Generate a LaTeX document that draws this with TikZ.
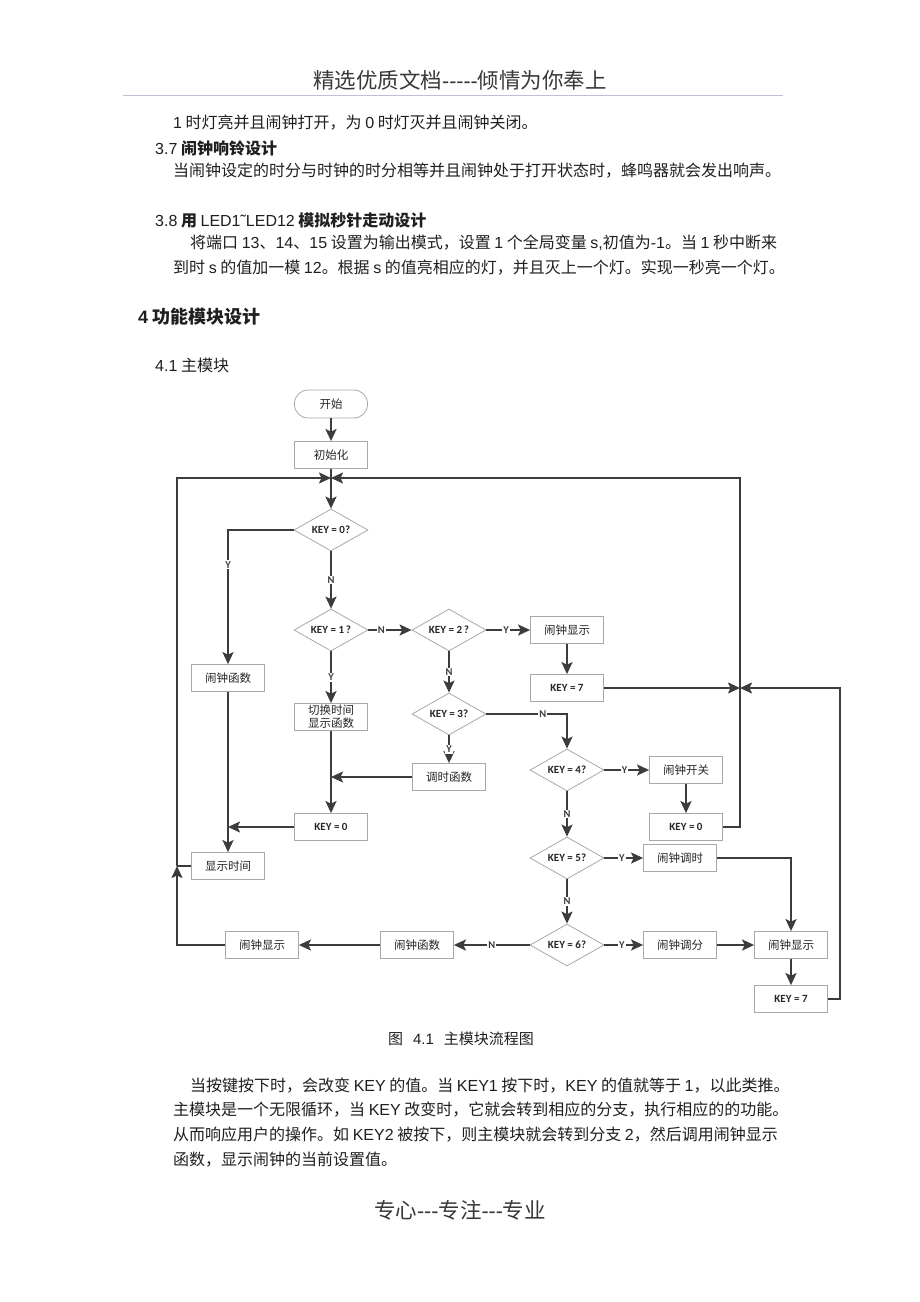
\documentclass[tikz,border=0pt]{standalone}
\usepackage{fontspec}
\setmainfont{Noto Sans CJK SC}
\newfontfamily\latfont{Liberation Sans}
\newfontfamily\keyfont{Carlito}
\usetikzlibrary{shapes.geometric,arrows.meta}
\definecolor{linegray}{HTML}{3C3C3C}
\definecolor{boxgray}{HTML}{A8A8A8}
\definecolor{rulegray}{HTML}{C6BCD8}
\newcommand{\en}[1]{{\latfont #1}}
\newcommand{\keyfnt}{\keyfont\bfseries\fontsize{11}{13}\selectfont}

\begin{document}
\begin{tikzpicture}[x=1pt,y=-1pt,
	>={Stealth[length=12pt,width=11pt,inset=2.5pt]},
	body/.style={anchor=west,inner sep=0pt,text=black!88,font=\fontsize{16}{18}\selectfont},
	box/.style={draw=boxgray,line width=0.8pt,fill=white,minimum width=73pt,minimum height=27pt,inner sep=1pt,text=black!85,font=\fontsize{11.5}{13}\selectfont},
	keybox/.style={box,font=\keyfnt},
	startbox/.style={box,rounded corners=13.5pt,minimum height=28pt},
	test/.style={diamond,draw=boxgray,line width=0.8pt,fill=white,aspect=1.76,minimum width=74pt,minimum height=42pt,inner sep=0pt,text=black!85,font=\keyfnt},
	flow/.style={->,draw=linegray,line width=1.8pt},
	link/.style={draw=linegray,line width=1.8pt},
	lab/.style={fill=white,inner sep=1pt,text=linegray,font=\keyfont\bfseries\fontsize{10.5}{12}\selectfont}]
	\fill[white] (0,0) rectangle (920,1302);
	\useasboundingbox (0,0) rectangle (920,1302);

	% page text
	\node[font=\fontsize{21.5}{24}\selectfont,text=black!78] (header) at (460,80) {精选优质文档\en{-{}-{}-{}-{}-}倾情为你奉上};
	\draw[rulegray,line width=1pt] (123,95) -- (783,95);
	\node[body] (line1) at (173,123) {\en{1} 时灯亮并且闹钟打开，为 \en{0} 时灯灭并且闹钟关闭。};
	\node[body] (sec37) at (155,148) {\en{3.7} {\bfseries 闹钟响铃设计}};
	\node[body] (line2) at (173,171) {当闹钟设定的时分与时钟的时分相等并且闹钟处于打开状态时，蜂鸣器就会发出响声。};
	\node[body] (sec38) at (155,220) {\en{3.8} {\bfseries 用} \en{LED1\symbol{"02DC}LED12} {\bfseries 模拟秒针走动设计}};
	\node[body] (line3) at (190,243) {将端口 \en{13}、\en{14}、\en{15} 设置为输出模式，设置 \en{1} 个全局变量 \en{s,}初值为\en{-1}。当 \en{1} 秒中断来};
	\node[body] (line4) at (173,268) {到时 \en{s} 的值加一模 \en{12}。根据 \en{s} 的值亮相应的灯，并且灭上一个灯。实现一秒亮一个灯。};
	\node[body,font=\fontsize{18}{20}\selectfont\bfseries] (sec4) at (138,317) {\en{4} 功能模块设计};
	\node[body] (sec41) at (155,365) {\en{4.1} 主模块};

	% flow chart
	\node[startbox] (start) at (331,404) {开始};
	\node[box] (init) at (331,455) {初始化};
	\coordinate (join) at (331,478);
	\node[test] (k0) at (331,530) {KEY = 0?};
	\node[test] (k1) at (331,630) {KEY = 1\,?};
	\node[test] (k2) at (449,630) {KEY = 2\,?};
	\node[box] (alshow) at (567,630) {闹钟显示};
	\node[keybox] (set7a) at (567,688) {KEY = 7};
	\node[box] (alfun) at (228,678) {闹钟函数};
	\node[box,align=center] (switch) at (331,717) {切换时间\\显示函数};
	\node[test] (k3) at (449,714) {KEY = 3?};
	\node[box] (settime) at (449,777) {调时函数};
	\node[test] (k4) at (567,770) {KEY = 4?};
	\node[box] (alswitch) at (686,770) {闹钟开关};
	\node[keybox] (clr0a) at (331,827) {KEY = 0};
	\node[keybox] (clr0b) at (686,827) {KEY = 0};
	\node[box] (showtime) at (228,866) {显示时间};
	\node[test] (k5) at (567,858) {KEY = 5?};
	\node[box] (alhour) at (680,858) {闹钟调时};
	\node[test] (k6) at (567,945) {KEY = 6?};
	\node[box] (almin) at (680,945) {闹钟调分};
	\node[box] (alshowb) at (791,945) {闹钟显示};
	\node[keybox] (set7b) at (791,999) {KEY = 7};
	\node[box] (alfunb) at (417,945) {闹钟函数};
	\node[box] (alshowc) at (262,945) {闹钟显示};
	\coordinate (lmerge) at (177,866);
	\coordinate (ltop) at (177,478);
	\coordinate (rjoin) at (740,688);
	\coordinate (rtop) at (740,478);
	\coordinate (rfar) at (840,688);

	\draw[flow] (start) to (init);
	\draw[flow] (init) to (k0);
	\draw[flow] (k0.west) -| node[lab,pos=0.63] {Y} (alfun);
	\draw[flow] (k0) to node[lab] {N} (k1);
	\draw[flow] (k1) to node[lab,pos=0.3] {N} (k2);
	\draw[flow] (k2) to node[lab,pos=0.45] {Y} (alshow);
	\draw[flow] (alshow) to (set7a);
	\draw[flow] (k1) to node[lab] {Y} (switch);
	\draw[flow] (switch) to (clr0a);
	\draw[flow] (k2) to node[lab] {N} (k3);
	\draw[flow] (k3) to node[lab] {Y} (settime);
	\draw[flow] (settime) to (settime -| switch);
	\draw[flow] (clr0a) to (clr0a -| alfun);
	\draw[flow] (alfun) to (showtime);
	\draw[flow] (k3) -| node[lab,pos=0.35] {N} (k4);
	\draw[flow] (k4) to node[lab,pos=0.45] {Y} (alswitch);
	\draw[flow] (alswitch) to (clr0b);
	\draw[flow] (k4) to node[lab] {N} (k5);
	\draw[flow] (k5) to node[lab,pos=0.45] {Y} (alhour);
	\draw[flow] (alhour) -| (alshowb);
	\draw[flow] (k5) to node[lab] {N} (k6);
	\draw[flow] (k6) to node[lab,pos=0.45] {Y} (almin);
	\draw[flow] (almin) to (alshowb);
	\draw[flow] (alshowb) to (set7b);
	\draw[flow] (k6) to node[lab] {N} (alfunb);
	\draw[flow] (alfunb) to (alshowc);
	% loops back to the top
	\draw[flow] (alshowc) -| (lmerge);
	\draw[link] (showtime) to (lmerge);
	\draw[flow] (lmerge) -- (ltop) -- (join);
	\draw[flow] (set7a) to (rjoin);
	\draw[flow] (clr0b) -| (rtop) -- (join);
	\draw[flow] (set7b) -| (rfar) -- (rjoin);

	% caption and text below
	\node[font=\fontsize{15}{17}\selectfont,text=black!88] (caption) at (461,1039) {图\hspace{10pt}\en{4.1}\hspace{10pt}主模块流程图};
	\node[body] (para1) at (190,1086) {当按键按下时，会改变 \en{KEY} 的值。当 \en{KEY1} 按下时，\en{KEY} 的值就等于 \en{1}，以此类推。};
	\node[body] (para2) at (173,1110) {主模块是一个无限循环，当 \en{KEY} 改变时，它就会转到相应的分支，执行相应的的功能。};
	\node[body] (para3) at (173,1135) {从而响应用户的操作。如 \en{KEY2} 被按下，则主模块就会转到分支 \en{2}，然后调用闹钟显示};
	\node[body] (para4) at (173,1160) {函数，显示闹钟的当前设置值。};
	\node[font=\fontsize{21.5}{24}\selectfont,text=black!78] (footer) at (460,1210) {专心\en{-{}-{}-}专注\en{-{}-{}-}专业};
\end{tikzpicture}
\end{document}
